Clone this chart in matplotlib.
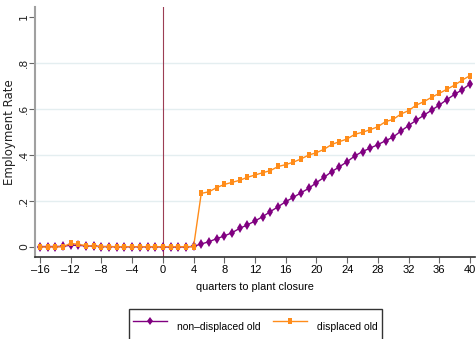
import matplotlib
matplotlib.use("Agg")
import matplotlib.pyplot as plt

# event time in quarters relative to plant closure
quarters = list(range(-16, 41))

# employment rates, non-displaced vs displaced older workers
nondisplaced_old = [
    0.002, 0.002, 0.002, 0.003, 0.008, 0.007, 0.005, 0.004, 0.002, 0.002,
    0.001, 0.001, 0.001, 0.001, 0.001, 0.001, 0.000, 0.000, 0.000, 0.000,
    0.003, 0.013, 0.023, 0.036, 0.048, 0.062, 0.081, 0.096, 0.113, 0.132,
    0.154, 0.175, 0.197, 0.216, 0.236, 0.255, 0.280, 0.303, 0.328, 0.349,
    0.371, 0.396, 0.415, 0.430, 0.445, 0.462, 0.478, 0.504, 0.528, 0.551,
    0.573, 0.595, 0.617, 0.641, 0.664, 0.684, 0.709,
]
displaced_old = [
    0.000, 0.000, 0.000, 0.001, 0.016, 0.011, 0.006, 0.004, 0.001, 0.001,
    0.001, 0.001, 0.001, 0.001, 0.001, 0.001, 0.001, 0.001, 0.001, 0.001,
    0.001, 0.233, 0.240, 0.258, 0.272, 0.281, 0.290, 0.303, 0.313, 0.323,
    0.332, 0.350, 0.358, 0.369, 0.383, 0.400, 0.410, 0.425, 0.446, 0.458,
    0.470, 0.490, 0.499, 0.510, 0.523, 0.545, 0.555, 0.578, 0.593, 0.617,
    0.632, 0.651, 0.668, 0.686, 0.704, 0.726, 0.745,
]

xticks = list(range(-16, 41, 4))
yticks = [0, 0.2, 0.4, 0.6, 0.8, 1]
ytick_labels = ["0", ".2", ".4", ".6", ".8", "1"]

PURPLE = "#800080"
ORANGE = "#ff8c1a"
NARROW = ["Liberation Sans", "DejaVu Sans"]

# tall rectangle marker for the displaced series
rect = [(-0.65, -1.0), (0.65, -1.0), (0.65, 1.0), (-0.65, 1.0), (-0.65, -1.0)]

fig = plt.figure(figsize=(4.77, 3.39), dpi=100)
ax = fig.add_axes([0.0734, 0.2419, 0.9224, 0.7371])

for y in yticks[1:-1]:
    ax.axhline(y, color="#e4eef0", lw=1.0, zorder=0)
ax.axvline(0, color="#9c3d54", lw=0.8, zorder=1)

l1, = ax.plot(quarters, nondisplaced_old, color=PURPLE, lw=1.0,
              marker="d", markersize=5.4, markeredgewidth=0, zorder=3,
              label="non\u2013displaced old")
l2, = ax.plot(quarters, displaced_old, color=ORANGE, lw=1.0,
              marker=rect, markersize=5.0, markeredgewidth=0, zorder=4,
              label="displaced old")

ax.set_xlim(-16.65, 40.65)
ax.set_ylim(-0.0435, 1.043)

ax.set_xticks(xticks)
ax.set_xticklabels([str(t).replace("-", "\u2013") for t in xticks],
                   fontfamily=NARROW, fontsize=8)
ax.set_yticks(yticks)
ax.set_yticklabels(ytick_labels, rotation=90, va="center", fontsize=7.8,
                   color="#222222")

ax.tick_params(axis="x", direction="out", length=4, width=0.8,
               color="#666666", pad=1.5)
ax.tick_params(axis="y", direction="out", length=4, width=0.8,
               color="#666666", pad=0.5)

for side in ("top", "right"):
    ax.spines[side].set_visible(False)
ax.spines["left"].set_color("#a0a0a0")
ax.spines["left"].set_linewidth(1.5)
ax.spines["bottom"].set_color("#303030")
ax.spines["bottom"].set_linewidth(1.2)

ax.set_xlabel("quarters to plant closure", fontfamily=NARROW, fontsize=7.8,
              labelpad=5)
ax.set_ylabel("Employment Rate", fontsize=8.5, color="#222222")
ax.yaxis.label.set_verticalalignment("center")
ax.yaxis.set_label_coords(-0.058, 0.5)

leg = fig.legend(handles=[l1, l2], loc="upper center",
                 bbox_to_anchor=(0.535, 1 - 309 / 339), ncol=2,
                 frameon=True, fancybox=False, edgecolor="black",
                 prop={"family": NARROW, "size": 7.5}, handlelength=3.3,
                 handleheight=3.6, columnspacing=1.2, borderpad=0.4,
                 handletextpad=0.9, borderaxespad=0.0, markerscale=0.8)
leg.get_frame().set_linewidth(1.0)

fig.savefig("out.png", dpi=100)
